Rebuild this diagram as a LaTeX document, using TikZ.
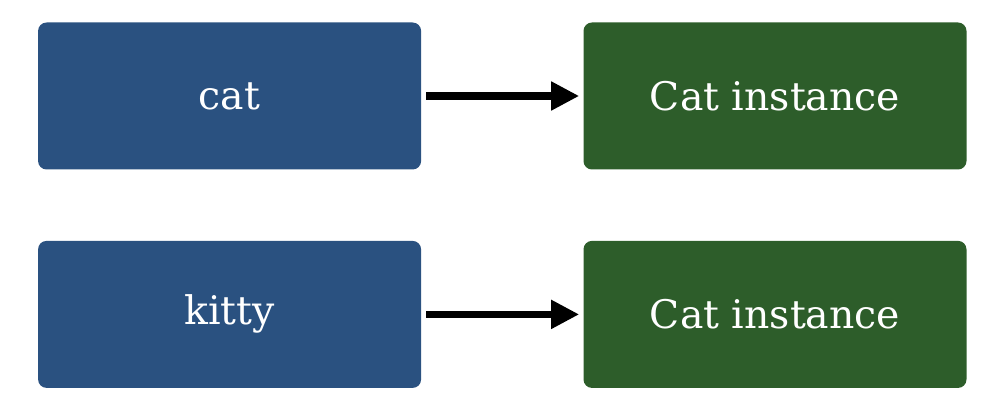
\documentclass[tikz,border=0pt]{standalone}
\usepackage{fontspec}
\setmainfont{DejaVu Serif}
\usepackage{tikz}
\usetikzlibrary{positioning,arrows.meta}

\begin{document}
\begin{tikzpicture}[
    varbox/.style={rectangle,rounded corners=6pt,fill=varblue,text=white,
        minimum width=9.575cm,minimum height=3.675cm,inner sep=0pt,
        font=\fontsize{28}{32}\selectfont},
    objbox/.style={varbox,fill=objgreen},
    ref/.style={line width=5pt,-{Triangle[length=0.7cm,width=0.68cm]},shorten >=0.1cm}
]
    \definecolor{varblue}{HTML}{2A5180}
    \definecolor{objgreen}{HTML}{2D5D2A}

    % Fix page size
    \useasboundingbox (0,0) rectangle (25.1,10.25);

    % Draw names
    \node[varbox] (cat) at (5.74,7.85) {cat};
    \node[varbox] (kitty) at (5.74,2.39) {kitty};

    % Draw objects
    \node[objbox] (inst1) at (19.375,7.85) {Cat instance};
    \node[objbox] (inst2) at (19.375,2.39) {Cat instance};

    % Draw references
    \draw[ref] ([xshift=0.12cm]cat.east) -- (inst1.west);
    \draw[ref] ([xshift=0.12cm]kitty.east) -- (inst2.west);
\end{tikzpicture}
\end{document}
